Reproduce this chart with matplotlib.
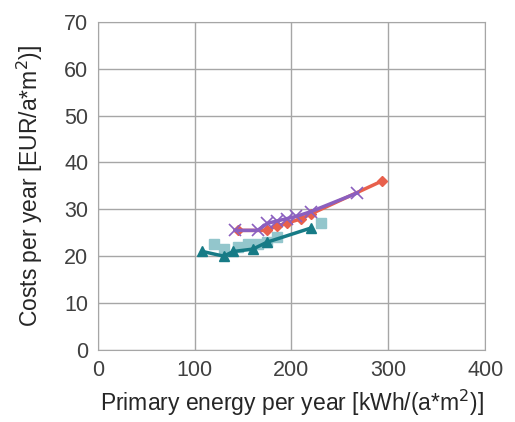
import matplotlib
matplotlib.use("Agg")
import matplotlib.pyplot as plt

plt.rcParams['font.family'] = ['Liberation Sans', 'DejaVu Sans']

# red diamonds
red_x = [145, 175, 185, 195, 210, 220, 293]
red_y = [25.5, 25.5, 26.5, 27, 28, 29, 36]
# purple crosses
purple_x = [142, 165, 175, 185, 195, 205, 220, 268]
purple_y = [25.5, 25.5, 27, 27.5, 28, 28.5, 29.5, 33.5]
# light blue squares
light_x = [120, 130, 145, 155, 165, 175, 185, 230]
light_y = [22.5, 21.5, 22, 22.5, 22.5, 23, 24, 27]
# teal triangles
teal_x = [108, 130, 140, 160, 175, 220]
teal_y = [21, 20, 21, 21.5, 23, 26]

xticks = [0, 100, 200, 300, 400]
yticks = [0, 10, 20, 30, 40, 50, 60, 70]

fig = plt.figure(figsize=(5.15, 4.22), dpi=100)
ax = fig.add_axes([0.19, 0.171, 0.752, 0.777])

ax.plot(light_x, light_y, 's', color='#93c6cc', markersize=6.5, zorder=3)
ax.plot(teal_x, teal_y, '-^', color='#177b86', linewidth=2.5, markersize=7.5, zorder=4)
ax.plot(red_x, red_y, '-D', color='#e8604c', linewidth=2.5, markersize=5.5, zorder=5)
ax.plot(purple_x, purple_y, '-x', color='#8b5fbf', linewidth=2.5, markersize=9,
        markeredgewidth=1.2, zorder=6)

ax.set_xlim(0, 400)
ax.set_ylim(0, 70)
ax.set_xticks(xticks)
ax.set_yticks(yticks)
ax.grid(True, color='#a6a6a6', linewidth=1)
ax.set_axisbelow(True)
for s in ax.spines.values():
    s.set_color('#a6a6a6')
ax.tick_params(length=0, labelsize=15.5, colors='#404040', pad=7)
ax.set_xlabel('Primary energy per year [kWh/(a*m$^2$)]', fontsize=16.5,
              color='#262626', labelpad=5)
ax.set_ylabel('Costs per year [EUR/a*m$^2$)]', fontsize=16.5,
              color='#262626', labelpad=14)

fig.savefig('out.png', dpi=100)
